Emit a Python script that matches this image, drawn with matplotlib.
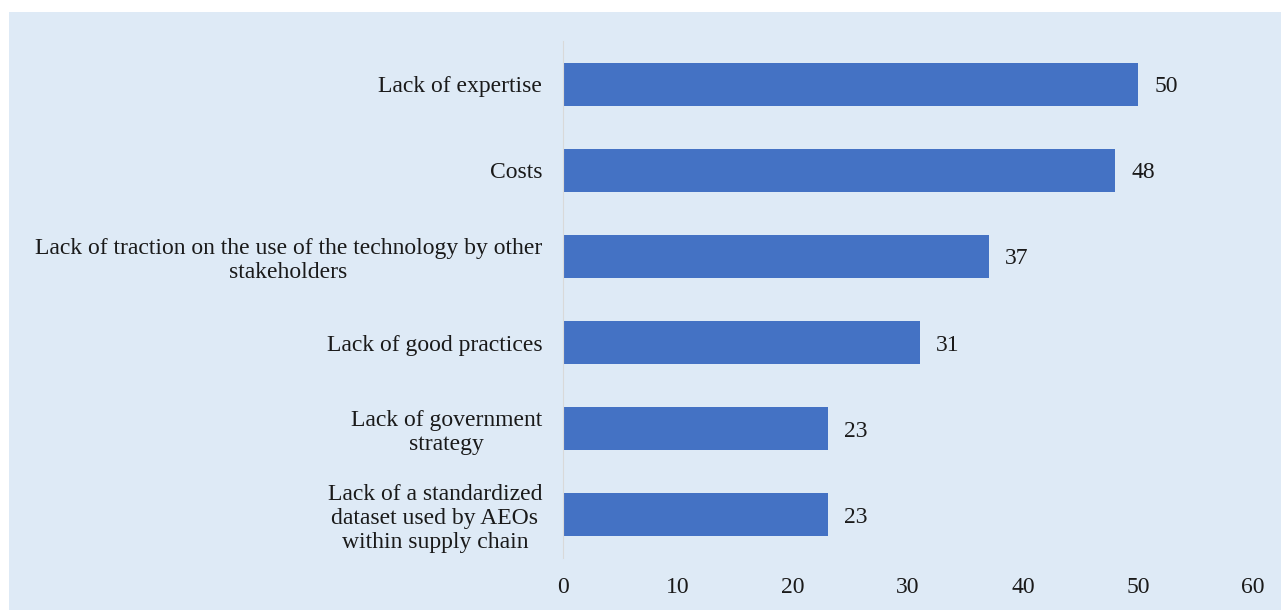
import matplotlib
matplotlib.use("Agg")
import matplotlib.pyplot as plt
from matplotlib.patches import Rectangle

categories = [
    "Lack of expertise",
    "Costs",
    "Lack of traction on the use of the technology by other\nstakeholders",
    "Lack of good practices",
    "Lack of government\nstrategy",
    "Lack of a standardized\ndataset used by AEOs\nwithin supply chain",
]
values = [50, 48, 37, 31, 23, 23]
xticks = [0, 10, 20, 30, 40, 50, 60]

plt.rcParams['font.family'] = ['Liberation Serif', 'DejaVu Serif']

bg = '#DEEAF6'
fs = 17
fig = plt.figure(figsize=(12.81, 6.10), dpi=100)
fig.patches.append(Rectangle((9 / 1281, 0), 1, 1 - 12 / 610, transform=fig.transFigure,
                             facecolor=bg, edgecolor='none', linewidth=0, zorder=-10))
ax = fig.add_axes([563 / 1281, 52 / 610, 690 / 1281, 517 / 610])
ax.set_facecolor('none')

ypos = list(range(len(categories)))
bars = ax.barh(ypos, values, height=0.5, color='#4472C4')
ax.set_ylim(len(categories) - 0.5, -0.5)
ax.set_xlim(0, 60)
ax.set_xticks(xticks)
ax.set_yticks(ypos)
ax.set_yticklabels(categories)
for lab in ax.get_yticklabels():
    lab.set_multialignment('center')
    lab.set_linespacing(1.18)

for b, v in zip(bars, values):
    ax.annotate(str(v), (b.get_width(), b.get_y() + b.get_height() / 2),
                xytext=(12, 0), textcoords='offset points', va='center_baseline', ha='left',
                fontsize=fs, color='#1a1a1a')

for s in ['top', 'right', 'bottom']:
    ax.spines[s].set_visible(False)
ax.spines['left'].set_color('#D9D9D9')
ax.tick_params(axis='both', length=0, labelsize=fs, colors='#1a1a1a')
ax.tick_params(axis='y', pad=15)
ax.tick_params(axis='x', pad=14)

fig.savefig('out.png', dpi=100)
